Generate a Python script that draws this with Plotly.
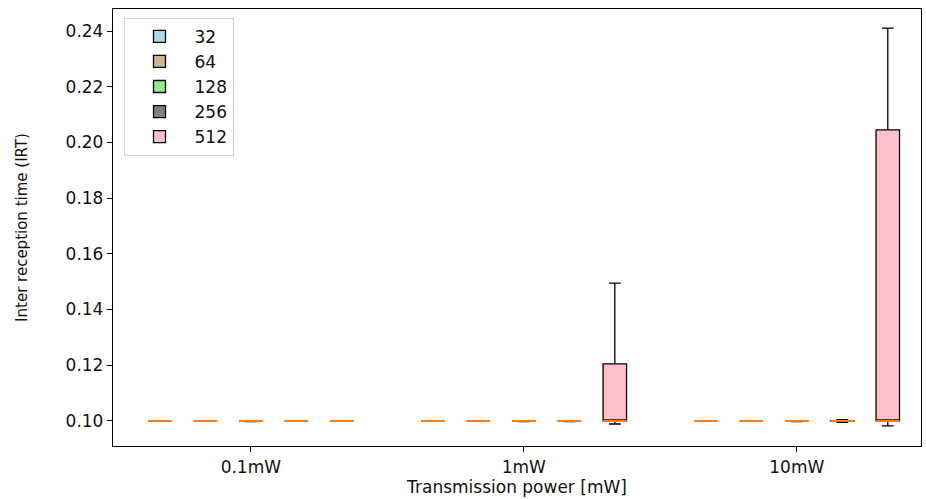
import plotly.graph_objects as go

categories = ["0.1mW", "1mW", "10mW"]
groups = ["32", "64", "128", "256", "512"]
colors = ["#add8e6", "#d2b48c", "#90ee90", "#808080", "#ffc0cb"]

# per group: values for each category
q1 = {
    "32": [0.1, 0.1, 0.1],
    "64": [0.1, 0.1, 0.1],
    "128": [0.1, 0.1, 0.1],
    "256": [0.1, 0.1, 0.0999],
    "512": [0.1, 0.1, 0.1],
}
med = {
    "32": [0.1, 0.1, 0.1],
    "64": [0.1, 0.1, 0.1],
    "128": [0.1, 0.1, 0.1],
    "256": [0.1, 0.1, 0.1],
    "512": [0.1, 0.1, 0.1],
}
q3 = {
    "32": [0.1, 0.1, 0.1],
    "64": [0.1, 0.1, 0.1],
    "128": [0.1, 0.1, 0.1],
    "256": [0.1, 0.1, 0.1001],
    "512": [0.1, 0.1205, 0.2045],
}
low = {
    "32": [0.1, 0.1, 0.1],
    "64": [0.1, 0.1, 0.1],
    "128": [0.0998, 0.0998, 0.0998],
    "256": [0.1, 0.0998, 0.0995],
    "512": [0.1, 0.0989, 0.0982],
}
high = {
    "32": [0.1, 0.1, 0.1],
    "64": [0.1, 0.1, 0.1],
    "128": [0.1, 0.1, 0.1],
    "256": [0.1, 0.1, 0.1005],
    "512": [0.1, 0.1495, 0.241],
}

FONT = "DejaVu Sans"
box_w = 0.086
fig = go.Figure()
for k, g in enumerate(groups):
    xs = [i + (k - 2) / 6 for i in range(len(categories))]
    fig.add_trace(go.Box(
        name=g, x=xs, q1=q1[g], median=med[g], q3=q3[g],
        lowerfence=low[g], upperfence=high[g],
        fillcolor=colors[k], line=dict(color="black", width=1.3),
        width=box_w, whiskerwidth=0.5, boxpoints=False, hoverinfo="skip",
    ))
for k, g in enumerate(groups):
    xs = [i + (k - 2) / 6 for i in range(len(categories))]
    mx, my = [], []
    for x, m in zip(xs, med[g]):
        mx += [x - box_w / 2, x + box_w / 2, None]
        my += [m, m, None]
    fig.add_trace(go.Scatter(x=mx, y=my, mode="lines",
                             line=dict(color="#ff7f0e", width=2),
                             showlegend=False, hoverinfo="skip"))

fig.update_layout(
    width=926, height=499,
    margin=dict(l=113, r=5, t=9, b=53),
    plot_bgcolor="white", paper_bgcolor="white",
    font=dict(family=FONT, size=17, color="#111"),
    showlegend=True,
    legend=dict(x=0.013, y=0.98, xanchor="left", yanchor="top",
                bordercolor="#d0d0d0", borderwidth=1, bgcolor="white",
                font=dict(size=17), itemwidth=60),
    boxmode="overlay",
)
fig.update_xaxes(
    range=[-0.505, 2.455], tickvals=list(range(len(categories))), ticktext=categories,
    showline=True, linecolor="black", linewidth=1.3, mirror=True,
    ticks="outside", ticklen=5, tickcolor="black", showgrid=False, zeroline=False,
    title=dict(text="Transmission power [mW]", font=dict(size=17), standoff=2),
)
fig.update_yaxes(
    range=[0.0910, 0.2479], tickvals=[0.10, 0.12, 0.14, 0.16, 0.18, 0.20, 0.22, 0.24],
    tickformat=".2f",
    showline=True, linecolor="black", linewidth=1.3, mirror=True,
    ticks="outside", ticklen=5, tickcolor="black", showgrid=False, zeroline=False,
    title=dict(text="Inter reception time (IRT)", font=dict(size=15), standoff=34),
)
fig.write_html("out.html")
